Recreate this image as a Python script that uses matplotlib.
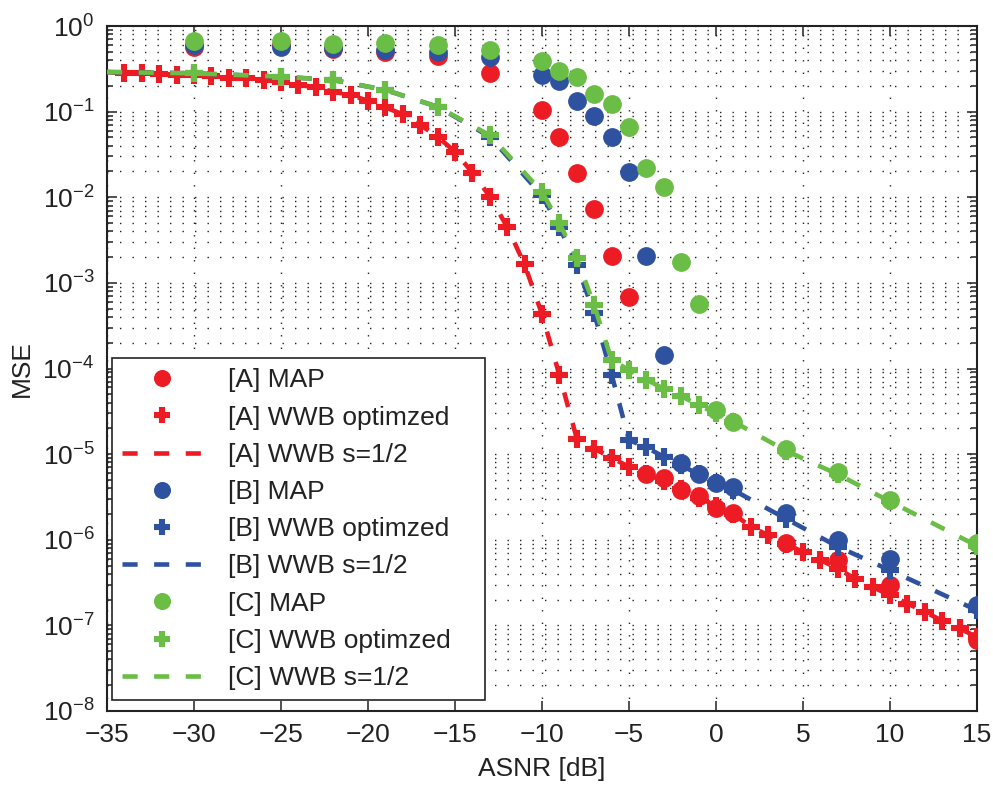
import numpy as np
import matplotlib
matplotlib.use("Agg")
import matplotlib.pyplot as plt
from matplotlib.ticker import NullFormatter, FixedLocator, FixedFormatter

plt.rcParams['font.family'] = ['Liberation Sans', 'DejaVu Sans']
plt.rcParams['mathtext.fontset'] = 'custom'
plt.rcParams['mathtext.rm'] = 'Liberation Sans'
plt.rcParams['mathtext.it'] = 'Liberation Sans:italic'

# ---------------- data ----------------
x_map = [-30, -25, -22, -19, -16, -13, -10, -9, -8, -7, -6, -5, -4, -3, -2, -1, 0, 1, 4, 7, 10, 15]

a_map = [0.57, 0.60, 0.54, 0.50, 0.45, 0.28, 0.104, 0.051, 0.019, 0.0072, 0.00207, 6.9e-4,
         5.8e-6, 5.2e-6, 3.86e-6, 3.23e-6, 2.32e-6, 2.03e-6, 9.1e-7, 5.8e-7, 2.95e-7, 6.7e-8]
b_map = [0.60, 0.57, 0.56, 0.53, 0.50, 0.44, 0.27, 0.23, 0.134, 0.090, 0.051, 0.0195,
         0.00206, 1.43e-4, 7.8e-6, 5.8e-6, 4.6e-6, 4.15e-6, 2.03e-6, 9.9e-7, 6.0e-7, 1.72e-7]
c_map = [0.67, 0.67, 0.61, 0.63, 0.60, 0.52, 0.385, 0.30, 0.256, 0.159, 0.123, 0.0667,
         0.0217, 0.0133, 1.76e-3, 5.6e-4, 3.27e-5, 2.39e-5, 1.16e-5, 6.2e-6, 2.9e-6, 9.1e-7]

x_a_opt = list(range(-34, 16))
a_opt = [0.28, 0.28, 0.276, 0.268, 0.268, 0.26, 0.249, 0.245, 0.234, 0.224,
         0.205, 0.192, 0.171, 0.156, 0.134, 0.112, 0.093, 0.070, 0.051, 0.034,
         0.0194, 0.0102, 0.0045, 0.00164, 4.3e-4, 8.4e-5, 1.52e-5, 1.16e-5, 9.06e-6, 7.1e-6,
         5.9e-6, 4.8e-6, 3.9e-6, 3.1e-6, 2.5e-6, 2.0e-6, 1.42e-6, 1.13e-6, 9.0e-7, 7.2e-7,
         5.8e-7, 4.6e-7, 3.5e-7, 2.8e-7, 2.25e-7, 1.8e-7, 1.44e-7, 1.13e-7, 9.2e-8, 7.3e-8]

x_a_half = list(range(-35, 16))
a_half = [0.29, 0.28, 0.28, 0.276, 0.268, 0.268, 0.26, 0.249, 0.245, 0.234, 0.224,
          0.205, 0.192, 0.171, 0.156, 0.134, 0.112, 0.093, 0.070, 0.051, 0.034,
          0.0194, 0.0102, 0.0045, 0.00164, 4.3e-4, 8.4e-5, 1.52e-5, 1.16e-5, 9.06e-6, 7.1e-6,
          5.9e-6, 4.8e-6, 3.9e-6, 3.1e-6, 2.5e-6, 2.0e-6, 1.42e-6, 1.13e-6, 9.0e-7, 7.2e-7,
          5.8e-7, 4.6e-7, 3.5e-7, 2.8e-7, 2.25e-7, 1.8e-7, 1.44e-7, 1.13e-7, 9.2e-8, 7.3e-8]

b_opt = [0.28, 0.256, 0.234, 0.179, 0.114, 0.051, 0.0105, 0.0045, 0.00162, 4.4e-4, 8.5e-5, 1.46e-5,
         1.2e-5, 9.3e-6, 7.4e-6, 5.8e-6, 4.6e-6, 3.8e-6, 1.77e-6, 8.3e-7, 4.4e-7, 1.5e-7]
c_opt = [0.28, 0.256, 0.234, 0.179, 0.114, 0.053, 0.0116, 0.00495, 0.00193, 5.5e-4, 1.25e-4, 9.6e-5,
         7.4e-5, 5.8e-5, 4.76e-5, 3.73e-5, 3.0e-5, 2.4e-5, 1.1e-5, 5.8e-6, 2.8e-6, 8.5e-7]

x_half = [-35] + x_map
b_half = [0.29, 0.28, 0.256, 0.234, 0.179, 0.114, 0.051, 0.0105, 0.0045, 0.00162, 4.4e-4, 8.5e-5, 1.46e-5,
          1.2e-5, 9.3e-6, 7.4e-6, 5.8e-6, 4.6e-6, 3.8e-6, 1.77e-6, 8.3e-7, 4.4e-7, 1.5e-7]
c_half = [0.29, 0.28, 0.256, 0.234, 0.179, 0.114, 0.053, 0.0116, 0.00495, 0.00193, 5.5e-4, 1.25e-4, 9.6e-5,
          7.4e-5, 5.8e-5, 4.76e-5, 3.73e-5, 3.0e-5, 2.4e-5, 1.1e-5, 5.8e-6, 2.8e-6, 8.5e-7]

x_ticks = [-35, -30, -25, -20, -15, -10, -5, 0, 5, 10, 15]
y_exps = [-8, -7, -6, -5, -4, -3, -2, -1, 0]

RED = '#ED1C24'
BLUE = '#2E52A0'
GREEN = '#6ABD45'
INK = '#222222'

# ---------------- figure ----------------
fig = plt.figure(figsize=(9.93, 7.85), dpi=100)
ax = fig.add_axes([107/993, 1 - 711/785, 870/993, 685/785])
ax.set_yscale('log')

FS = 19
ms_c = 12.5
ms_p = 13
mew_p = 4.4
lw_d = 3.3
dash = (0, (3.3, 3.6))

series = [
    ('[A]', RED, x_map, a_map, x_a_opt, a_opt, x_a_half, a_half, 1),
    ('[B]', BLUE, x_map, b_map, x_map, b_opt, x_half, b_half, 2),
    ('[C]', GREEN, x_map, c_map, x_map, c_opt, x_half, c_half, 3),
]
for name, col, xm, ym, xo, yo, xh, yh, z in series:
    ax.plot(xm, ym, 'o', color=col, ms=ms_c, mec=col, ls='none', zorder=3 + z * 0.3 + 0.2,
            label=f'{name} MAP')
    ax.plot(xo, yo, '+', color=col, ms=ms_p, mew=mew_p, ls='none', zorder=3 + z * 0.3 + 0.1,
            label=f'{name} WWB optimzed')
    ax.plot(xh, yh, color=col, lw=lw_d, ls=dash, zorder=3 + z * 0.3,
            label=f'{name} WWB s=1/2')

ax.set_xlim(-35, 15)
ax.set_ylim(1e-8, 1)
ax.xaxis.set_major_locator(FixedLocator(x_ticks))
ax.xaxis.set_major_formatter(FixedFormatter([f'\u2212{abs(t)}' if t < 0 else str(t) for t in x_ticks]))
ax.yaxis.set_major_locator(FixedLocator([10.0 ** e for e in y_exps]))
ax.yaxis.set_major_formatter(FixedFormatter([r'$\mathdefault{10^{%d}}$' % e for e in y_exps]))
minor_y = [m * 10.0 ** e for e in y_exps[:-1] for m in range(2, 10)]
ax.yaxis.set_minor_locator(FixedLocator(minor_y))
ax.yaxis.set_minor_formatter(NullFormatter())

ax.grid(True, which='major', axis='x', color=INK, ls=(0, (1, 8)), lw=1.0)
ax.grid(True, which='both', axis='y', color=INK, ls=(0, (1, 8)), lw=1.0)
ax.set_axisbelow(True)

ax.tick_params(which='both', direction='in', top=True, right=True, labelsize=FS,
               width=1.1, colors=INK, labelcolor=INK)
ax.tick_params(which='major', length=7, pad=9)
ax.tick_params(which='minor', length=4)
for sp in ax.spines.values():
    sp.set_linewidth(1.5)
    sp.set_color(INK)

ax.set_xlabel('ASNR [dB]', fontsize=FS, color=INK, labelpad=7)
ax.set_ylabel('MSE', fontsize=FS, color=INK, labelpad=6)

leg = ax.legend(loc='lower left', bbox_to_anchor=(0.006, 0.016, 0.429, 0.504), mode='expand',
                borderaxespad=0, fontsize=FS, handlelength=3.0, handletextpad=1.0,
                labelspacing=0.5, borderpad=0.38, fancybox=False, framealpha=1,
                edgecolor=INK, markerscale=0.9)
leg.get_frame().set_linewidth(1.2)
for t in leg.get_texts():
    t.set_color(INK)

fig.savefig('out.png', dpi=100)
